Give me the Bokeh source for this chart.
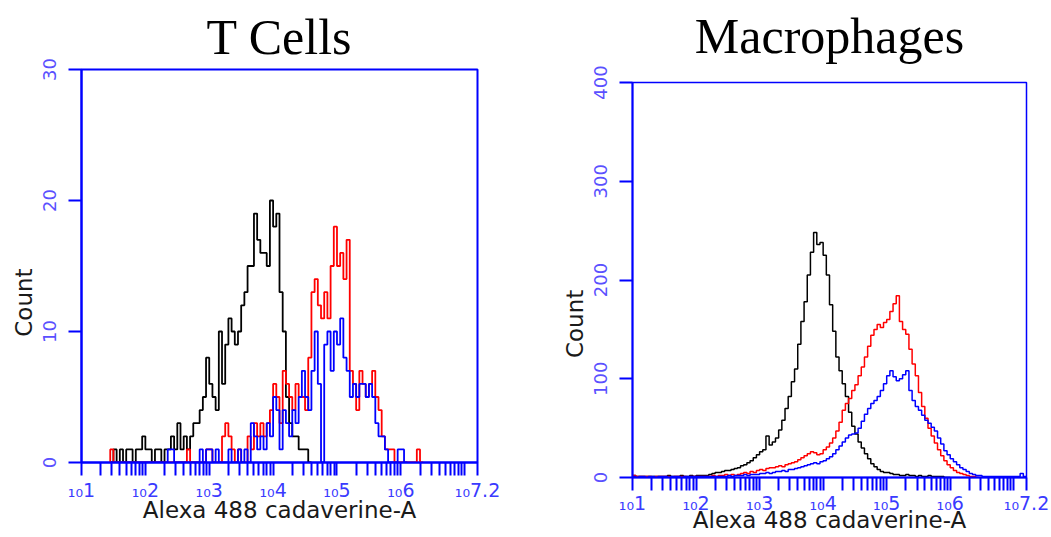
import math
from bokeh.plotting import figure
from bokeh.layouts import row, column
from bokeh.models import Range1d, FixedTicker, Title
from bokeh.embed import file_html
from bokeh.resources import INLINE

# ---------------- data ----------------
bin_width = 0.05            # bin width in decades (log10 units)

tcell_start = 1.45          # log10 of the first bin edge (T cells)
tcell_black = [0, 1, 0, 1, 0, 1, 1, 0, 1, 1,
               2, 1, 1, 0, 1, 1, 0, 1, 1, 2,
               1, 3, 1, 2, 1, 2, 3, 3, 4, 5,
               8, 6, 5, 4, 10, 6, 9, 11, 10, 9,
               10, 12, 13, 15, 15, 19, 17, 16, 16, 15,
               20, 18, 19, 13, 10, 5, 3, 2, 2, 1,
               1, 1, 0]
tcell_red = [1, 0, 0, 0, 0, 0, 0, 0, 0, 0,
             0, 0, 0, 0, 0, 0, 0, 0, 0, 0,
             0, 0, 0, 0, 1, 0, 0, 0, 0, 0,
             1, 1, 0, 0, 0, 2, 3, 2, 1, 0,
             1, 0, 0, 2, 1, 3, 2, 3, 2, 3,
             4, 6, 5, 3, 7, 6, 5, 4, 6, 5,
             5, 4, 8, 13, 14, 12, 11, 13, 11, 15,
             18, 15, 16, 14, 17, 7, 6, 4, 7, 6,
             5, 6, 7, 5, 4, 2, 1, 1, 1, 0,
             0, 0, 0, 0, 0, 0, 1, 0]
tcell_blue = [0, 0, 0, 0, 0, 0, 0, 0, 0, 0,
              0, 0, 0, 0, 0, 0, 0, 0, 1, 1,
              0, 0, 0, 0, 0, 0, 0, 0, 1, 0,
              1, 1, 0, 1, 0, 0, 0, 1, 0, 0,
              1, 0, 1, 0, 3, 2, 1, 2, 1, 3,
              2, 5, 4, 1, 4, 3, 2, 4, 3, 5,
              7, 5, 4, 7, 10, 6, 0, 9, 10, 7,
              10, 9, 11, 8, 7, 5, 6, 5, 6, 6,
              5, 6, 5, 3, 2, 2, 1, 0, 0, 0,
              1, 1, 0]

macro_start = 1.00          # log10 of the first bin edge (Macrophages)
macro_black = [2, 1, 1, 1, 1, 1, 1, 1, 1, 1,
               1, 2, 1, 1, 1, 2, 1, 1, 2, 1,
               2, 2, 2, 2, 3, 4, 5, 5, 6, 7,
               7, 8, 9, 10, 12, 13, 15, 17, 20, 23,
               26, 28, 42, 33, 36, 40, 48, 58, 70, 82,
               97, 110, 135, 158, 178, 205, 228, 248, 236, 238,
               225, 205, 175, 148, 122, 108, 95, 82, 66, 52,
               44, 36, 30, 24, 19, 14, 11, 8, 6, 5,
               5, 4, 3, 3, 2, 2, 3, 2, 2, 1,
               2, 1, 1, 2, 1, 1, 1, 1, 0, 0]
macro_red = [2, 1, 1, 1, 1, 1, 0, 1, 1, 1,
             1, 1, 0, 1, 1, 1, 1, 0, 1, 1,
             1, 1, 1, 1, 1, 2, 1, 2, 2, 3,
             2, 3, 2, 3, 4, 5, 4, 6, 5, 7,
             8, 7, 9, 10, 10, 11, 12, 11, 13, 14,
             15, 16, 18, 20, 22, 24, 26, 25, 23, 24,
             28, 31, 35, 40, 47, 56, 68, 75, 80, 88,
             94, 103, 112, 122, 133, 144, 150, 155, 152, 157,
             160, 168, 176, 184, 158, 150, 145, 130, 115, 103,
             86, 72, 60, 50, 42, 35, 28, 22, 17, 13,
             10, 7, 5, 4, 3, 2, 1, 1, 0]
macro_blue = [1, 0, 1, 1, 0, 1, 1, 0, 1, 1,
              1, 0, 1, 1, 1, 0, 1, 1, 1, 1,
              1, 1, 1, 1, 1, 1, 1, 1, 1, 1,
              2, 1, 2, 2, 2, 3, 2, 3, 3, 3,
              4, 4, 5, 4, 5, 6, 6, 7, 6, 8,
              8, 9, 10, 11, 12, 13, 14, 15, 14, 16,
              17, 19, 21, 24, 28, 32, 36, 40, 43, 44,
              45, 50, 57, 64, 70, 75, 78, 82, 88, 95,
              103, 108, 102, 98, 100, 104, 108, 88, 78, 72,
              68, 63, 58, 55, 51, 47, 40, 34, 27, 23,
              19, 16, 13, 10, 8, 6, 4, 3, 2, 2,
              1, 1, 1, 1, 1, 1, 1, 1, 1, 1,
              1, 1, 4, 1]

series_colors = ["#000000", "#ff0000", "#0000ff"]
titles = ["T Cells", "Macrophages"]
x_label = "Alexa 488 cadaverine-A"
y_label = "Count"
exp_ticks = [1, 2, 3, 4, 5, 6, 7.2]
exp_labels = ["1", "2", "3", "4", "5", "6", "7.2"]
tcell_yticks = [0, 10, 20, 30]
macro_yticks = [0, 100, 200, 300, 400]

# ---------------- styling ----------------
AX_BLUE = "#0000ff"
LABEL_BLUE = "#5a50ff"
EXP_BLUE = "#3a3aff"
SANS = "DejaVu Sans"
SERIF = "Liberation Serif"
X_MIN, X_MAX = 1.0, 7.2
SUB10 = "\u2081\u2080"      # small lowered "10" in front of each exponent
NBSP = "\u00a0"

# log minor ticks within each decade, plus 10^7
minor_xticks = [dec + math.log10(k) for dec in range(1, 7) for k in range(2, 10)] + [7.0]


def make_panel(title, start, series, ymax, yticks, g):
    p = figure(width=g["w"], height=g["h"], output_backend="svg", toolbar_location=None,
               x_range=Range1d(X_MIN, X_MAX), y_range=Range1d(0, ymax),
               min_border_left=g["ml"], min_border_right=g["mr"],
               min_border_top=g["mt"], min_border_bottom=g["mb"],
               background_fill_color="white", border_fill_color="white")
    p.xgrid.visible = False
    p.ygrid.visible = False
    p.outline_line_color = AX_BLUE
    p.outline_line_width = g["outline"]

    # a blank spacer line between frame and title lifts the title
    if g["title_gap_font"] > 0:
        p.add_layout(Title(text=NBSP, text_font_size=f"{g['title_gap_font']}px",
                           standoff=0, text_color="white"), "above")
    p.add_layout(Title(text=title, align="center", text_font=SERIF,
                       text_font_size="50px", text_font_style="normal",
                       text_color="#000000", standoff=g["title_standoff"]), "above")

    for vals, col in zip(series, series_colors):
        n = len(vals)
        xs = [start] + [start + i * bin_width for i in range(n + 1)]
        ys = [0] + list(vals) + [0]
        p.step(xs, ys, mode="after", line_color=col, line_width=g["lw"])

    xa = p.below[0]
    xa.ticker = FixedTicker(ticks=exp_ticks, minor_ticks=minor_xticks)
    xa.major_label_overrides = {t: SUB10 + lab for t, lab in zip(exp_ticks, exp_labels)}
    xa.major_label_text_font = SANS
    xa.major_label_text_font_size = "19px"
    xa.major_label_text_color = EXP_BLUE
    xa.major_label_standoff = g["tick_standoff"]
    xa.major_tick_out = 13
    xa.major_tick_in = 0
    xa.minor_tick_out = 13
    xa.minor_tick_in = 0
    xa.axis_line_color = AX_BLUE
    xa.axis_line_width = 2
    xa.major_tick_line_color = AX_BLUE
    xa.major_tick_line_width = 2
    xa.minor_tick_line_color = AX_BLUE
    xa.minor_tick_line_width = 2
    xa.axis_label = x_label
    xa.axis_label_text_font = SANS
    xa.axis_label_text_font_size = "23px"
    xa.axis_label_text_font_style = "normal"
    xa.axis_label_text_color = "#1a1a1a"
    xa.axis_label_standoff = g["xlab_standoff"]

    ya = p.left[0]
    ya.ticker = FixedTicker(ticks=yticks)
    ya.major_label_orientation = "vertical"
    ya.major_label_text_font = SANS
    ya.major_label_text_font_size = "18px"
    ya.major_label_text_color = LABEL_BLUE
    ya.major_label_standoff = 13
    ya.major_tick_out = 13
    ya.major_tick_in = 0
    ya.axis_line_color = AX_BLUE
    ya.axis_line_width = 2
    ya.major_tick_line_color = AX_BLUE
    ya.major_tick_line_width = 2
    ya.minor_tick_line_color = None
    # trailing no-break spaces push the rotated label below the frame centre,
    # as in the reference
    ya.axis_label = y_label + NBSP * g["count_pad"]
    ya.axis_label_text_font = SANS
    ya.axis_label_text_font_size = "23px"
    ya.axis_label_text_font_style = "normal"
    ya.axis_label_text_color = "#1a1a1a"
    ya.axis_label_standoff = 3
    return p


g_left = dict(w=528, h=537, ml=81, mr=51, mt=69, mb=75, lw=1.8, outline=2,
              title_gap_font=0, title_standoff=10, tick_standoff=3, xlab_standoff=-7,
              count_pad=10)
g_right = dict(w=522, h=537, ml=104, mr=24, mt=82, mb=60, lw=1.5, outline=1.5,
               title_gap_font=12, title_standoff=6, tick_standoff=1, xlab_standoff=-10,
               count_pad=12)

p1 = make_panel(titles[0], tcell_start, [tcell_black, tcell_red, tcell_blue], 30,
                tcell_yticks, g_left)
p2 = make_panel(titles[1], macro_start, [macro_black, macro_red, macro_blue], 400,
                macro_yticks, g_right)

layout = row(p1, column(p2))
open("out.html", "w").write(file_html(layout, INLINE))
